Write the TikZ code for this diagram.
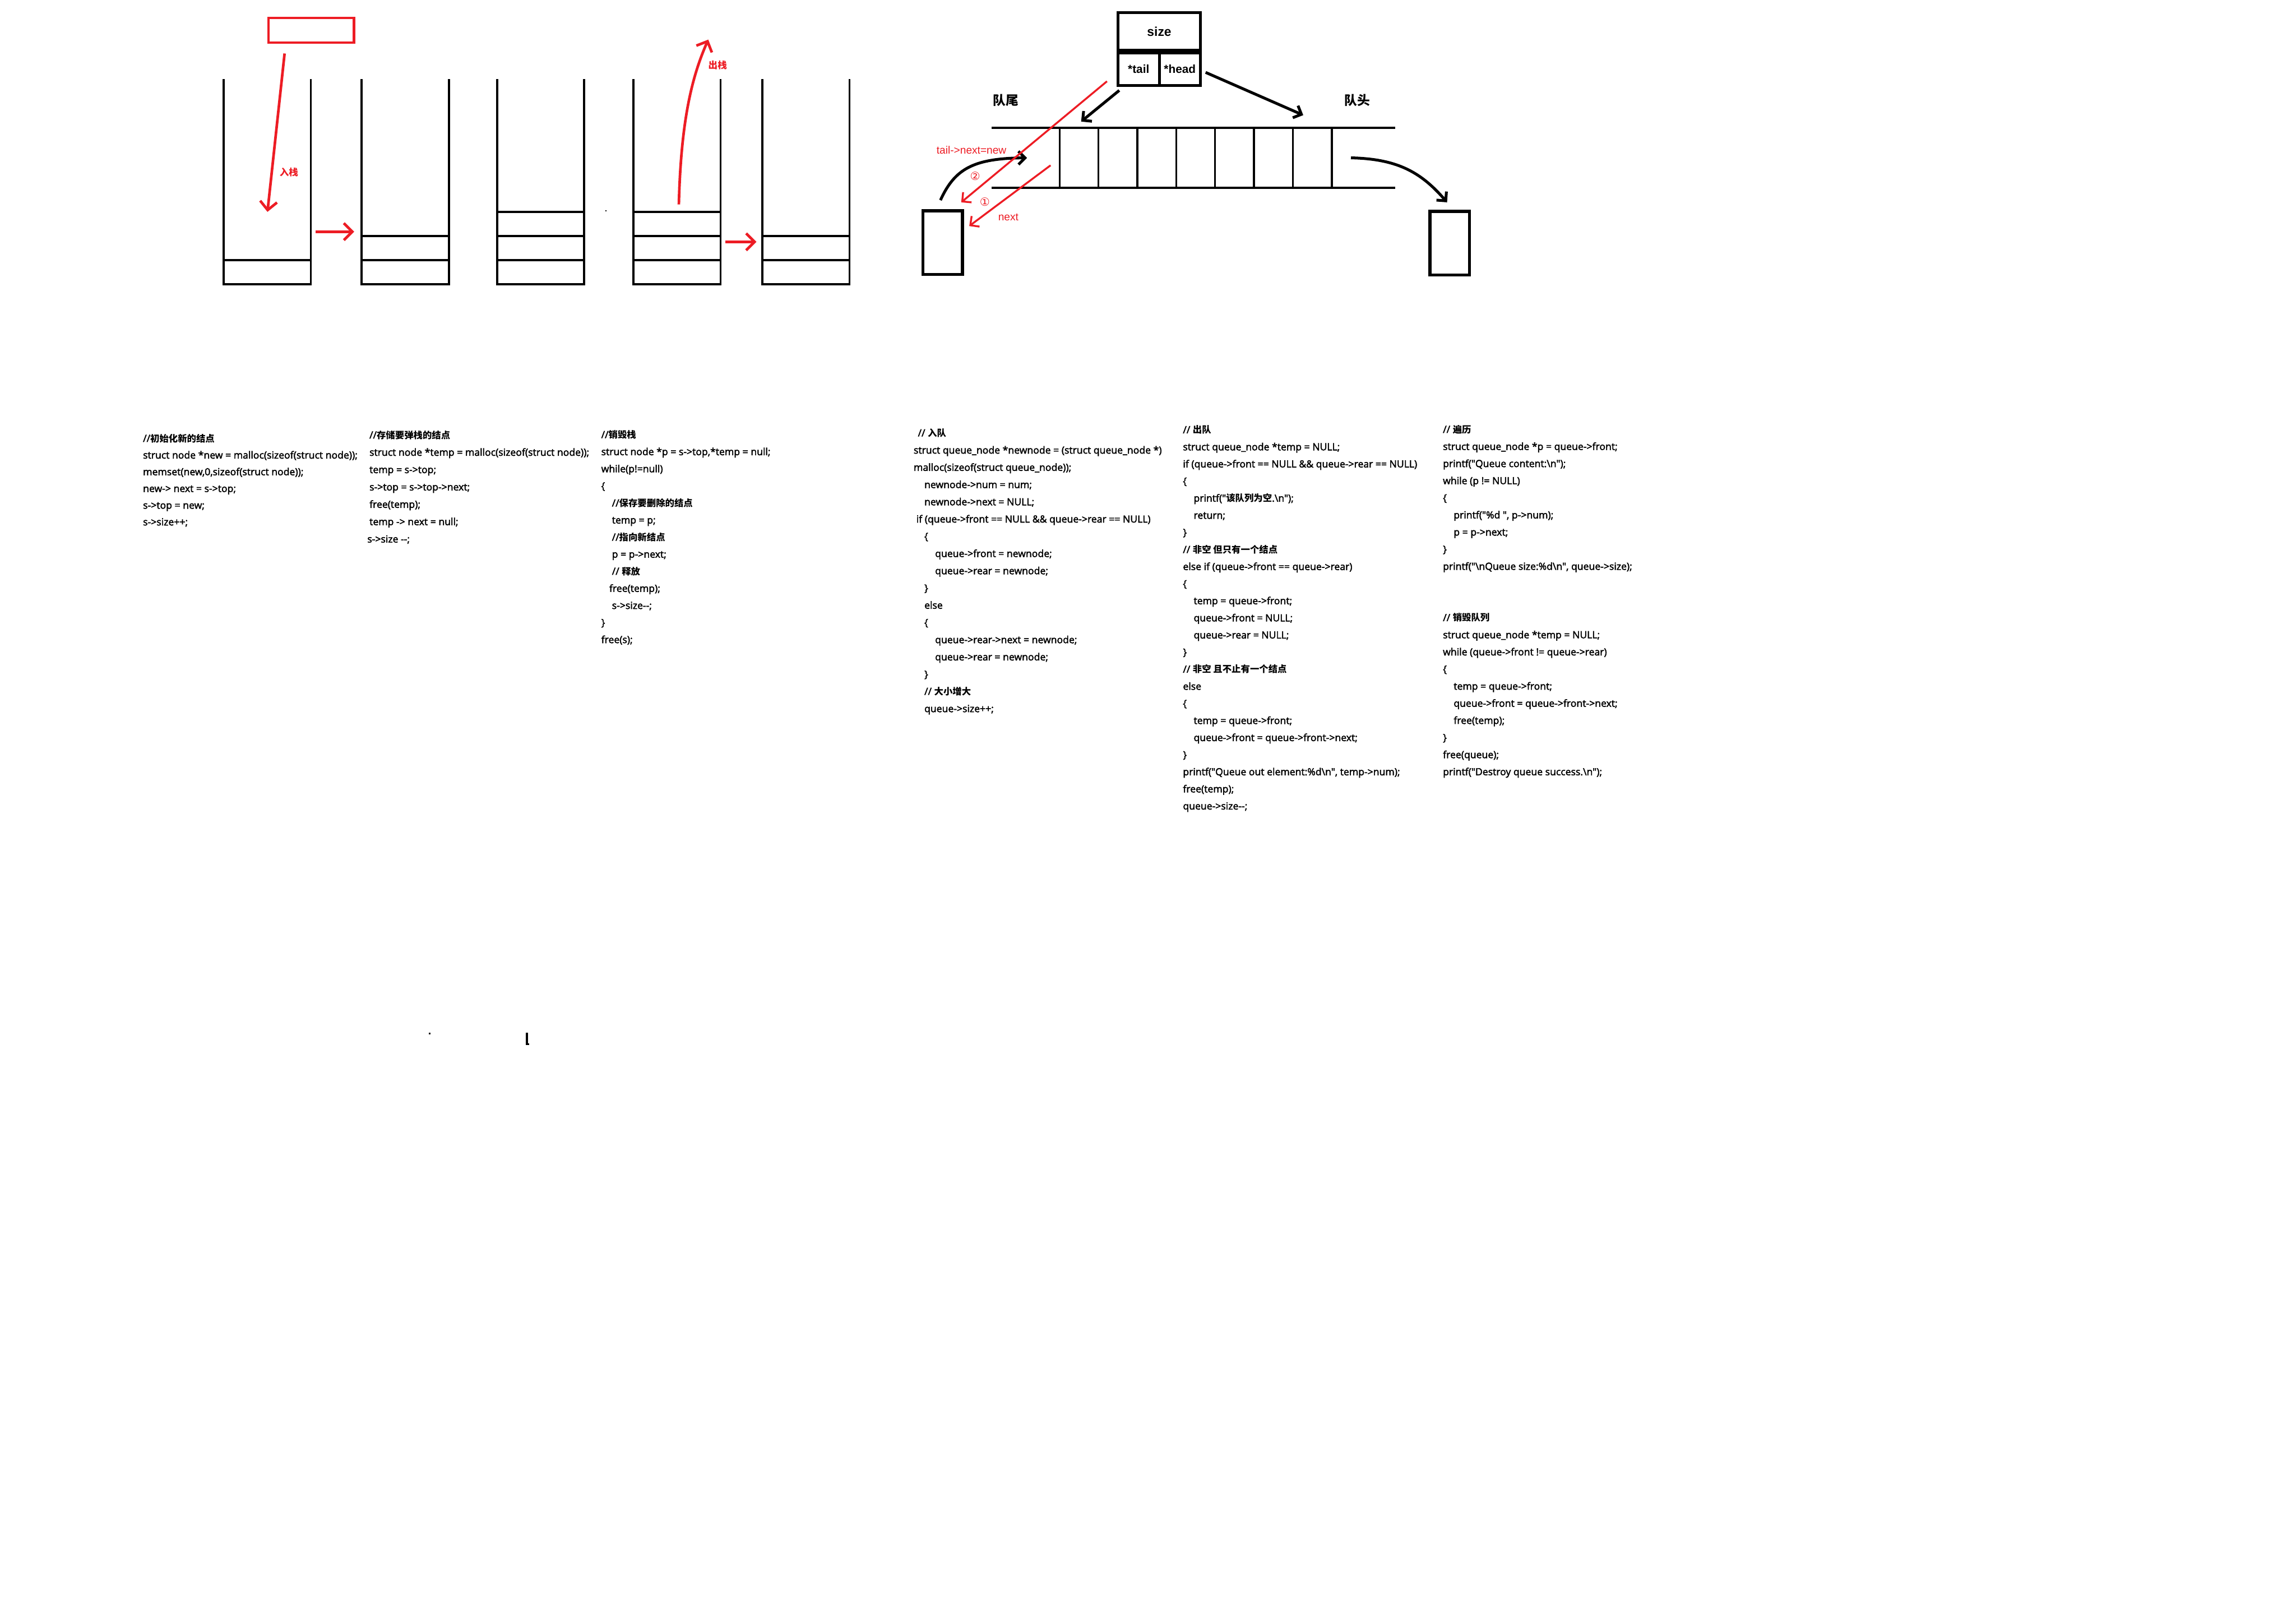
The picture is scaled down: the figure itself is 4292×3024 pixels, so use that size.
\documentclass[tikz,border=0pt]{standalone}
\usepackage{fontspec}
\setmainfont{Open Sans}[Ligatures=TeXOff, BoldFont={Open Sans}, BoldFeatures={FakeBold=2.5}]
\newfontfamily\cjk{Noto Sans CJK SC}[Ligatures=TeXOff, Scale=0.93]
\newfontfamily\paintfont{Liberation Sans}[Ligatures=TeXOff]
\newfontfamily\symfont{DejaVu Sans}
\usetikzlibrary{arrows.meta,calc,positioning}
\definecolor{paintred}{RGB}{237,28,36}
\newcommand\zh[1]{{\cjk #1}}

\begin{document}
\begin{tikzpicture}[x=0.01cm, y=-0.01cm,
  wall/.style={line width=1.15pt},
  redptr/.style={draw=paintred, line width=1.4pt, -{Straight Barb[length=4.5pt,width=9pt]}},
  thinredptr/.style={draw=paintred, line width=1pt, -{Straight Barb[length=3.5pt,width=7pt]}},
  ptr/.style={line width=1.5pt, -{Straight Barb[length=3.5pt,width=7pt]}},
  cell/.style={draw, line width=1.5pt, inner sep=0pt, font=\paintfont\bfseries\fontsize{6.2}{7}\selectfont},
  qcell/.style={draw, line width=1pt, minimum width=0.727cm, minimum height=1.12cm, inner sep=0pt},
  listbox/.style={draw, line width=1.6pt, minimum width=0.74cm, minimum height=1.19cm, inner sep=0pt},
  redlabel/.style={text=paintred, inner sep=0pt, font=\paintfont\fontsize{5.7}{6}\selectfont},
  zhlabel/.style={inner sep=0pt, font=\cjk\bfseries\fontsize{7.3}{8}\selectfont},
  codeblock/.style={anchor=base west, align=left, inner sep=0pt,
    font=\bfseries\fontsize{5.25}{#1}\selectfont},
  codeblock/.default=9.1pt
]
  \fill[white] (0,0) rectangle (4292,3024);

  % stacks
  \foreach \x/\n [count=\i] in {418/1,676/2,929/3,1184/3,1425/2}{
    \coordinate (st\i) at (\x,531);
    \draw[wall] (\x,148) -- (\x,531) -- (\x+163,531) -- (\x+163,148);
    \foreach \k in {1,...,\n}
      \draw[wall] (\x,531-45*\k) -- (\x+163,531-45*\k);
  }
  \node[draw=paintred, line width=1.4pt, minimum width=1.6cm, minimum height=0.46cm,
    inner sep=0pt] (newnode) at (582,56.5) {};
  \draw[redptr] ($(newnode.south)+(-50,18)$) -- ($(st1)+(82,-135)$);
  \node[zhlabel, text=paintred, font=\cjk\bfseries\fontsize{5.3}{6}\selectfont] (pushlabel) at (540,322) {入栈};
  \draw[redptr] ($(st1)+(172,-98)$) -- ($(st2)+(-14,-98)$);
  \draw[redptr] ($(st4)+(172,-79)$) -- ($(st5)+(-11,-79)$);
  \draw[redptr] ($(st4)+(85,-149)$) .. controls ($(st4)+(89,-311)$) and ($(st4)+(111,-391)$) .. ($(st4)+(140,-457)$);
  \node[zhlabel, text=paintred, font=\cjk\bfseries\fontsize{5.3}{6}\selectfont] (poplabel) at (1341.5,122) {出栈};
  \fill (1132,393) rectangle (1134,395);

  % queue
  \node[cell, minimum width=1.54cm, minimum height=0.70cm, font=\paintfont\bfseries\fontsize{6.8}{7}\selectfont] (sizecell) at (2167,59) {size};
  \node[cell, minimum width=0.77cm, minimum height=0.60cm, anchor=north west] (tailcell) at (sizecell.south west) {*tail};
  \node[cell, minimum width=0.77cm, minimum height=0.60cm, anchor=north east] (headcell) at (sizecell.south east) {*head};
  \draw[line width=1.2pt] (1854,239) -- (2608,239);
  \draw[line width=1.2pt] (1854,351) -- (2608,351);
  \foreach \i in {0,...,6}
    \node[qcell] (q\i) at (2017+72.7*\i,295) {};
  \node[zhlabel] (rearlabel) at (1880,187) {队尾};
  \node[zhlabel] (frontlabel) at (2537,187) {队头};
  \node[listbox] (newq) at (1762,453.5) {};
  \node[listbox] (oldq) at (2710,454.5) {};
  \draw[ptr] ($(tailcell.south west)+(5,7)$) -- ($(q0.north)+(4,-10)$);
  \draw[ptr] ($(headcell.east)+(7,6)$) -- ($(q6.north)+(-17,-22)$);
  \draw[ptr] ($(newq.north)+(-4,-17)$) .. controls (1785,315) and (1820,296) .. ($(q0.west)+(-59,0)$);
  \draw[ptr] ($(q6.east)+(34,0)$) .. controls (2610,297) and (2655,320) .. ($(oldq.north)+(-5,-14)$);
  \draw[thinredptr] ($(tailcell.south west)+(-18,-10)$) -- ($(newq.north east)+(-5,-13)$);
  \draw[thinredptr] ($(q0.west)+(-15,14)$) -- ($(newq.east)+(10,-31)$);
  \node[redlabel] (linklabel) at (1816,280) {tail->next=new};
  \node[redlabel, font=\symfont\fontsize{6}{6}\selectfont] (steptwo) at (1823,329.5) {②};
  \node[redlabel, font=\symfont\fontsize{6}{6}\selectfont] (stepone) at (1841,377) {①};
  \node[redlabel] (nextlabel) at (1885,406) {next};

  % code (anchored at the baseline of the last line)
  \node[codeblock=8.88pt] (pushcode) at (266.7,982) {//\zh{初始化新的结点}\\
    struct node *new = malloc(sizeof(struct node));\\
    memset(new,0,sizeof(struct node));\\
    new-> next = s->top;\\
    s->top = new;\\
    s->size++;};
  \node[codeblock=9.22pt] (popcode) at (690,1014) {//\zh{存储要弹栈的结点}\\
    struct node *temp = malloc(sizeof(struct node));\\
    temp = s->top;\\
    s->top = s->top->next;\\
    free(temp);\\
    temp -> next = null;\\
    \hspace*{-0.4mm}s->size -{}-;};
  \node[codeblock=9.08pt] (freecode) at (1123.3,1202) {//\zh{销毁栈}\\
    struct node *p = s->top,*temp = null;\\
    while(p!=null)\\
    \{\\
    \hspace*{2mm}//\zh{保存要删除的结点}\\
    \hspace*{2mm}temp = p;\\
    \hspace*{2mm}//\zh{指向新结点}\\
    \hspace*{2mm}p = p->next;\\
    \hspace*{2mm}// \zh{释放}\\
    \hspace*{1.5mm}free(temp);\\
    \hspace*{2mm}s->size-{}-;\\
    \}\\
    free(s);};
  \node[codeblock=9.16pt] (enqcode) at (1707.3,1331) {\hspace*{0.8mm}// \zh{入队}\\
    struct queue\_node *newnode = (struct queue\_node *)\\
    malloc(sizeof(struct queue\_node));\\
    \hspace*{2mm}newnode->num = num;\\
    \hspace*{2mm}newnode->next = NULL;\\
    \hspace*{0.5mm}if (queue->front == NULL \&\& queue->rear == NULL)\\
    \hspace*{2mm}\{\\
    \hspace*{4mm}queue->front = newnode;\\
    \hspace*{4mm}queue->rear = newnode;\\
    \hspace*{2mm}\}\\
    \hspace*{2mm}else\\
    \hspace*{2mm}\{\\
    \hspace*{4mm}queue->rear->next = newnode;\\
    \hspace*{4mm}queue->rear = newnode;\\
    \hspace*{2mm}\}\\
    \hspace*{2mm}// \zh{大小增大}\\
    \hspace*{2mm}queue->size++;};
  \node[codeblock=9.09pt] (deqcode) at (2210.7,1513) {// \zh{出队}\\
    struct queue\_node *temp = NULL;\\
    if (queue->front == NULL \&\& queue->rear == NULL)\\
    \{\\
    \hspace*{2mm}printf("\zh{该队列为空}.\textbackslash n");\\
    \hspace*{2mm}return;\\
    \}\\
    // \zh{非空 但只有一个结点}\\
    else if (queue->front == queue->rear)\\
    \{\\
    \hspace*{2mm}temp = queue->front;\\
    \hspace*{2mm}queue->front = NULL;\\
    \hspace*{2mm}queue->rear = NULL;\\
    \}\\
    // \zh{非空 且不止有一个结点}\\
    else\\
    \{\\
    \hspace*{2mm}temp = queue->front;\\
    \hspace*{2mm}queue->front = queue->front->next;\\
    \}\\
    printf("Queue out element:\%d\textbackslash n", temp->num);\\
    free(temp);\\
    queue->size-{}-;};
  \node[codeblock=9.1pt] (walkcode) at (2696.7,1065) {// \zh{遍历}\\
    struct queue\_node *p = queue->front;\\
    printf("Queue content:\textbackslash n");\\
    while (p != NULL)\\
    \{\\
    \hspace*{2mm}printf("\%d ", p->num);\\
    \hspace*{2mm}p = p->next;\\
    \}\\
    printf("\textbackslash nQueue size:\%d\textbackslash n", queue->size);};
  \node[codeblock=9.1pt] (destroycode) at (2696.7,1449) {// \zh{销毁队列}\\
    struct queue\_node *temp = NULL;\\
    while (queue->front != queue->rear)\\
    \{\\
    \hspace*{2mm}temp = queue->front;\\
    \hspace*{2mm}queue->front = queue->front->next;\\
    \hspace*{2mm}free(temp);\\
    \}\\
    free(queue);\\
    printf("Destroy queue success.\textbackslash n");};

  % stray marks
  \fill (802,1930) rectangle (805,1933);
  \fill (983,1930) rectangle (987,1953);
  \fill (987,1950) rectangle (989,1953);
\end{tikzpicture}
\end{document}
